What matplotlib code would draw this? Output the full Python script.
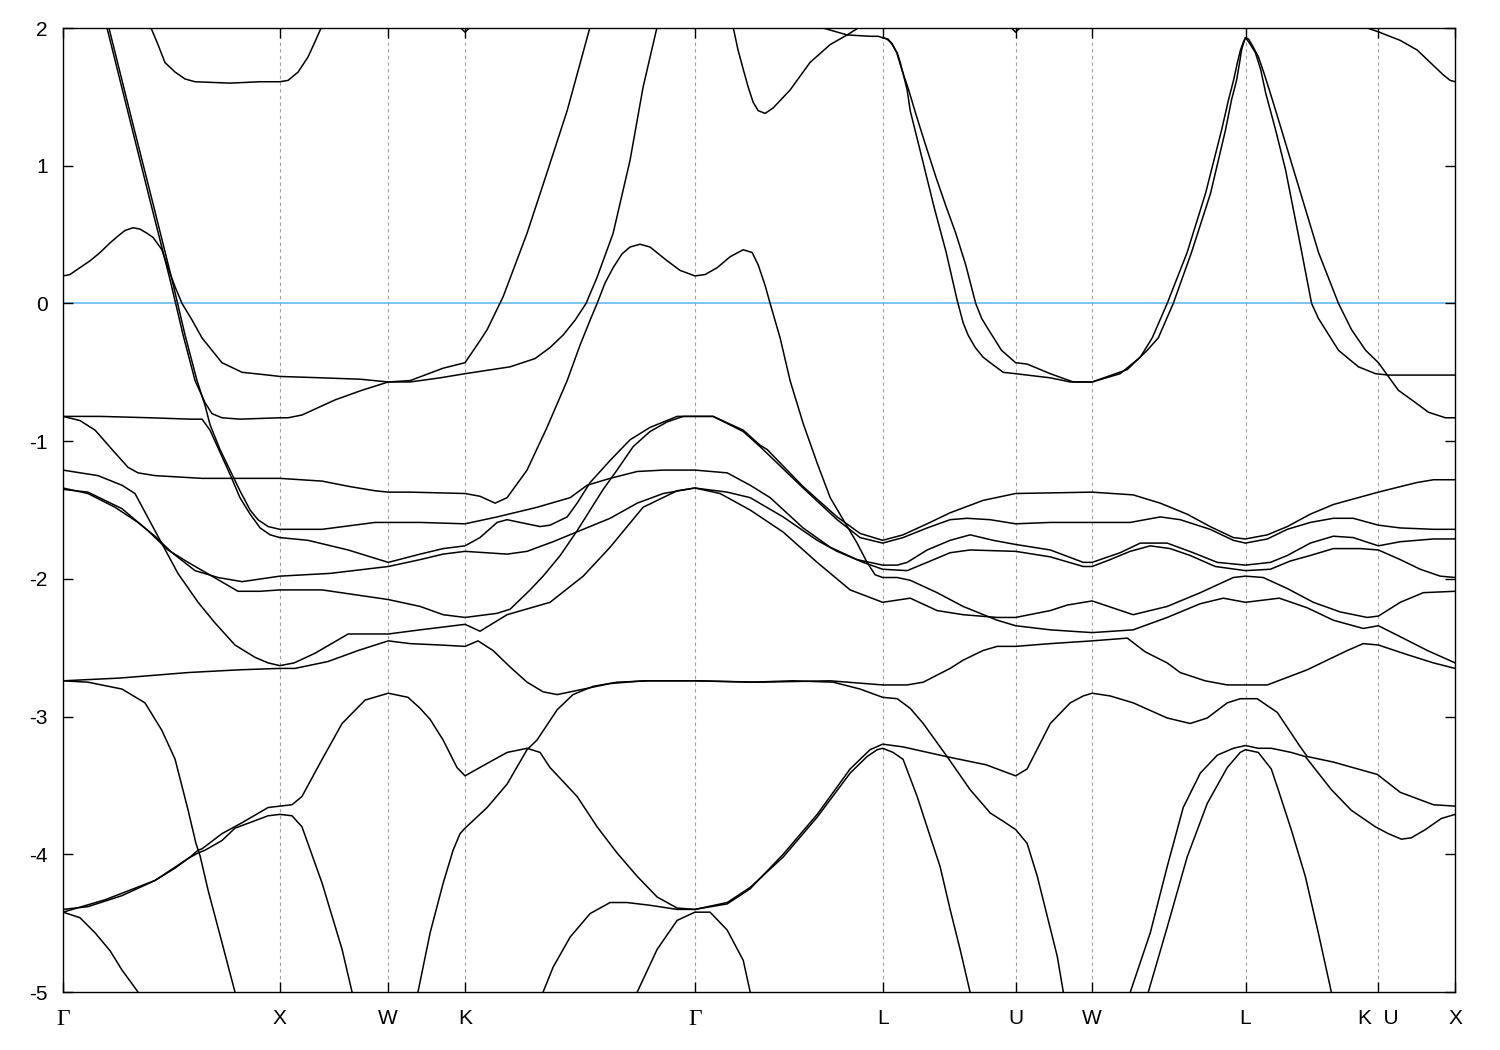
import matplotlib
matplotlib.use("Agg")
import matplotlib.pyplot as plt

plt.rcParams['axes.unicode_minus'] = False
plt.rcParams['font.family'] = ['Liberation Sans', 'DejaVu Sans']

# high-symmetry points along the path (units of 2pi/a)
sym_k = [0.0, 1.0, 1.5, 1.8536, 2.9142, 3.7802, 4.3926, 4.7462, 5.4533, 6.0657, 6.4193]
sym_labels = ['Γ', 'X', 'W', 'K', 'Γ', 'L', 'U', 'W', 'L', 'K  U', 'X']
y_ticks = [2, 1, 0, -1, -2, -3, -4, -5]
e_fermi = 0.0

# bands: k path position, energy (eV)
band1_k = [0.392, 0.406, 0.438, 0.470, 0.517, 0.563, 0.609, 0.770, 0.909, 1.0, 1.038, 1.084, 1.130, 1.162, 1.190, 1.204]
band1_e = [2.07, 2.00, 1.88, 1.75, 1.68, 1.63, 1.61, 1.60, 1.61, 1.61, 1.62, 1.68, 1.79, 1.90, 2.00, 2.04]

band2_k = [0, 0.032, 0.078, 0.125, 0.171, 0.217, 0.254, 0.286, 0.323, 0.355, 0.387, 0.415, 0.438, 0.456, 0.484,
           0.517, 0.549, 0.595, 0.641, 0.687, 0.733, 0.826, 0.946, 1.0, 1.195, 1.370, 1.5, 1.601, 1.739, 1.854,
           2.062, 2.177, 2.246, 2.306, 2.362, 2.412, 2.463, 2.537, 2.615, 2.675, 2.740, 2.749]
band2_e = [0.20, 0.21, 0.26, 0.31, 0.37, 0.44, 0.49, 0.53, 0.55, 0.54, 0.51, 0.48, 0.43, 0.39, 0.26,
           0.12, 0.00, -0.12, -0.25, -0.34, -0.43, -0.50, -0.52, -0.53, -0.54, -0.55, -0.57, -0.57, -0.54, -0.51,
           -0.46, -0.40, -0.32, -0.23, -0.12, 0.00, 0.19, 0.51, 1.04, 1.57, 2.01, 2.09]

band3_k = [0.189, 0.203, 0.309, 0.401, 0.494, 0.554, 0.609, 0.655, 0.687, 0.733, 0.816, 1.0, 1.038, 1.102, 1.255,
           1.379, 1.5, 1.601, 1.753, 1.854, 1.923, 1.956, 2.030, 2.140, 2.232, 2.325, 2.431, 2.445]
band3_e = [2.06, 2.00, 1.33, 0.75, 0.17, -0.23, -0.56, -0.72, -0.80, -0.83, -0.84, -0.83, -0.83, -0.81, -0.70,
           -0.63, -0.57, -0.56, -0.47, -0.43, -0.27, -0.19, 0.05, 0.51, 0.95, 1.40, 2.01, 2.07]

band4_k = [0.198, 0.212, 0.318, 0.411, 0.503, 0.563, 0.618, 0.655, 0.678, 0.724, 0.770, 0.816, 0.863, 0.899, 0.946,
           1.0, 1.195, 1.439, 1.647, 1.854, 2.002, 2.186, 2.339, 2.417, 2.523, 2.648, 2.768, 2.914,
           3.063, 3.169, 3.261, 3.413, 3.538, 3.662, 3.780, 3.847, 3.893, 3.985, 4.091, 4.183, 4.290, 4.393, 4.553,
           4.705, 4.746, 4.875, 4.968, 5.092, 5.212, 5.323, 5.453, 5.568, 5.646, 5.752, 5.858, 5.950, 6.066, 6.167,
           6.320, 6.42]
band4_e = [2.06, 2.00, 1.33, 0.75, 0.17, -0.23, -0.56, -0.74, -0.88, -1.06, -1.21, -1.36, -1.50, -1.57, -1.62,
           -1.64, -1.64, -1.59, -1.59, -1.60, -1.55, -1.48, -1.41, -1.32, -1.27, -1.22, -1.21, -1.21,
           -1.23, -1.32, -1.41, -1.63, -1.77, -1.86, -1.90, -1.90, -1.88, -1.79, -1.72, -1.68, -1.72, -1.75, -1.79,
           -1.88, -1.88, -1.81, -1.74, -1.74, -1.81, -1.88, -1.90, -1.88, -1.83, -1.74, -1.69, -1.70, -1.76, -1.73,
           -1.71, -1.71]

band5_k = [0, 0.171, 0.401, 0.586, 0.641, 0.678, 0.724, 0.770, 0.816, 0.863, 0.909, 0.955, 1.0, 1.130, 1.315, 1.5,
           1.647, 1.753, 1.854, 1.923, 2.002, 2.048, 2.108, 2.200, 2.246, 2.325, 2.371, 2.431, 2.523, 2.615, 2.707,
           2.832, 2.914,
           2.998, 3.137, 3.215, 3.247, 3.413, 3.570, 3.676, 3.780, 3.874, 3.985, 4.091, 4.243, 4.393, 4.746, 4.935,
           5.060, 5.184, 5.290, 5.397, 5.453, 5.554, 5.646, 5.752, 5.858, 5.950, 6.066, 6.167, 6.245, 6.320, 6.42]
band5_e = [-0.82, -0.82, -0.83, -0.84, -0.84, -0.92, -1.08, -1.24, -1.41, -1.53, -1.63, -1.68, -1.70, -1.72, -1.79,
           -1.88, -1.82, -1.78, -1.76, -1.70, -1.59, -1.57, -1.59, -1.62, -1.61, -1.55, -1.45, -1.30, -1.14, -0.99,
           -0.90, -0.82, -0.82,
           -0.82, -0.92, -1.03, -1.06, -1.33, -1.55, -1.67, -1.72, -1.68, -1.60, -1.52, -1.43, -1.38, -1.37, -1.39,
           -1.45, -1.53, -1.62, -1.70, -1.71, -1.68, -1.62, -1.53, -1.46, -1.42, -1.37, -1.33, -1.30, -1.28, -1.28]

band6_k = [0, 0.078, 0.148, 0.226, 0.300, 0.346, 0.424, 0.641, 0.793, 1.0,
           1.195, 1.324, 1.439, 1.5, 1.601, 1.854, 1.923, 1.993, 2.048, 2.140,
           2.232, 2.325, 2.385, 2.431, 2.463, 2.500, 2.537, 2.578, 2.615, 2.661,
           2.707, 2.786, 2.846, 2.914, 2.961, 3.017, 3.077, 3.137, 3.178, 3.206,
           3.238, 3.261, 3.307, 3.353, 3.413, 3.478, 3.538, 3.598, 3.662, 3.708,
           3.745, 3.780, 3.847, 3.907, 4.031, 4.151, 4.308, 4.393, 4.553, 4.746,
           4.935, 5.092, 5.245, 5.351, 5.453, 5.609, 5.738, 5.858, 5.996, 6.066,
           6.167, 6.292, 6.42]
band6_e = [-0.82, -0.85, -0.92, -1.06, -1.19, -1.23, -1.25, -1.27, -1.27, -1.27,
           -1.29, -1.33, -1.36, -1.37, -1.37, -1.38, -1.40, -1.45, -1.41, -1.21,
           -0.90, -0.56, -0.30, -0.12, 0.00, 0.15, 0.26, 0.36, 0.41, 0.43,
           0.41, 0.31, 0.24, 0.20, 0.21, 0.26, 0.34, 0.39, 0.37, 0.28,
           0.13, 0.00, -0.25, -0.56, -0.87, -1.16, -1.41, -1.57, -1.74, -1.88,
           -1.97, -1.99, -1.99, -2.01, -2.10, -2.20, -2.30, -2.34, -2.37, -2.39,
           -2.37, -2.28, -2.18, -2.14, -2.17, -2.14, -2.21, -2.30, -2.36, -2.34,
           -2.42, -2.52, -2.61]

band7_k = [0, 0.115, 0.240, 0.346, 0.424, 0.503, 0.609, 0.715, 0.826, 1.0, 1.232, 1.5, 1.647, 1.753, 1.854, 2.048,
           2.140, 2.260, 2.399, 2.523, 2.648, 2.768, 2.914,
           3.063, 3.169, 3.321, 3.478, 3.570, 3.690, 3.780, 3.893, 3.985, 4.091, 4.183, 4.393, 4.553, 4.705, 4.746,
           4.829, 4.921, 5.014, 5.106, 5.198, 5.314, 5.453, 5.568, 5.660, 5.752, 5.858, 5.983, 6.066, 6.167, 6.259,
           6.351, 6.42]
band7_e = [-1.34, -1.38, -1.48, -1.59, -1.69, -1.81, -1.94, -1.99, -2.02, -1.98, -1.96, -1.91, -1.86, -1.82, -1.80,
           -1.82, -1.80, -1.73, -1.64, -1.56, -1.45, -1.38, -1.34,
           -1.37, -1.41, -1.55, -1.72, -1.80, -1.88, -1.93, -1.94, -1.88, -1.81, -1.79, -1.80, -1.84, -1.91, -1.91,
           -1.86, -1.80, -1.76, -1.78, -1.83, -1.91, -1.94, -1.93, -1.87, -1.83, -1.78, -1.78, -1.79, -1.86, -1.93,
           -1.98, -1.99]

band8_k = [0, 0.115, 0.272, 0.392, 0.484, 0.577, 0.687, 0.807, 0.909, 1.0, 1.195, 1.5, 1.647, 1.753, 1.854, 2.002,
           2.062, 2.154, 2.214, 2.293, 2.371, 2.431, 2.491, 2.555, 2.629, 2.707, 2.786, 2.860, 2.914,
           2.998, 3.137, 3.215, 3.413, 3.570, 3.676, 3.780, 3.874, 3.985, 4.091, 4.169, 4.275, 4.393, 4.553, 4.746,
           4.921, 5.060, 5.152, 5.290, 5.397, 5.453, 5.554, 5.646, 5.752, 5.858, 5.950, 6.066, 6.167, 6.320, 6.42]
band8_e = [-1.35, -1.37, -1.49, -1.65, -1.79, -1.88, -1.98, -2.09, -2.09, -2.08, -2.08, -2.15, -2.20, -2.26, -2.28,
           -2.25, -2.22, -2.08, -1.98, -1.83, -1.65, -1.50, -1.35, -1.21, -1.04, -0.93, -0.86, -0.82, -0.82,
           -0.82, -0.93, -1.04, -1.34, -1.57, -1.70, -1.74, -1.70, -1.63, -1.57, -1.56, -1.57, -1.60, -1.59, -1.59,
           -1.59, -1.55, -1.57, -1.64, -1.72, -1.74, -1.71, -1.64, -1.59, -1.56, -1.56, -1.61, -1.63, -1.64, -1.64]

band9_k = [0, 0.161, 0.272, 0.332, 0.424, 0.530, 0.623, 0.701, 0.793, 0.886, 0.946, 1.0, 1.066, 1.162, 1.315, 1.5,
           1.647, 1.854, 1.923, 2.048, 2.246, 2.399, 2.523, 2.675, 2.832, 2.914,
           3.030, 3.169, 3.321, 3.478, 3.630, 3.780, 3.907, 4.031, 4.151, 4.308, 4.393, 4.553, 4.631, 4.746, 4.935,
           5.092, 5.245, 5.397, 5.453, 5.535, 5.646, 5.766, 5.890, 6.015, 6.066, 6.167, 6.273, 6.42]
band9_e = [-1.21, -1.25, -1.32, -1.38, -1.65, -1.96, -2.17, -2.32, -2.48, -2.57, -2.61, -2.63, -2.61, -2.54, -2.40,
           -2.40, -2.37, -2.33, -2.38, -2.26, -2.17, -1.98, -1.77, -1.48, -1.36, -1.34,
           -1.38, -1.50, -1.66, -1.88, -2.08, -2.17, -2.14, -2.23, -2.26, -2.28, -2.28, -2.23, -2.19, -2.16, -2.26,
           -2.20, -2.10, -1.99, -1.98, -1.99, -2.07, -2.17, -2.24, -2.28, -2.27, -2.17, -2.10, -2.09]

band10_k = [0, 0.263, 0.577, 0.816, 1.0, 1.070, 1.222, 1.361, 1.5, 1.601, 1.739, 1.854, 1.914, 1.983, 2.062, 2.140,
            2.214, 2.279, 2.371, 2.523, 2.675, 2.914,
            3.215, 3.538, 3.780, 3.893, 3.967, 4.091, 4.151, 4.243, 4.308, 4.393, 4.553, 4.746, 4.908, 4.991, 5.092,
            5.152, 5.267, 5.369, 5.453, 5.554, 5.738, 5.830, 5.923, 5.996, 6.066, 6.199, 6.320, 6.42]
band10_e = [-2.74, -2.72, -2.68, -2.66, -2.65, -2.65, -2.60, -2.52, -2.45, -2.47, -2.48, -2.49, -2.45, -2.52, -2.64,
            -2.75, -2.82, -2.84, -2.81, -2.76, -2.74, -2.74,
            -2.75, -2.74, -2.77, -2.77, -2.75, -2.65, -2.59, -2.52, -2.49, -2.49, -2.47, -2.45, -2.43, -2.53, -2.61,
            -2.68, -2.74, -2.77, -2.77, -2.77, -2.66, -2.59, -2.52, -2.47, -2.48, -2.55, -2.61, -2.65]

band11_k = [1.637, 1.693, 1.753, 1.799, 1.831, 1.854, 1.956, 2.048, 2.140, 2.186, 2.279, 2.352, 2.445, 2.555, 2.707,
            2.914, 3.169, 3.367, 3.552, 3.676, 3.780, 3.847, 3.907, 3.967, 4.031, 4.077, 4.183, 4.276, 4.336, 4.393,
            4.446, 4.493, 4.539, 4.585, 4.613]
band11_e = [-5.00, -4.57, -4.21, -3.97, -3.85, -3.81, -3.66, -3.49, -3.24, -3.17, -2.95, -2.84, -2.78, -2.75, -2.74,
            -2.74, -2.75, -2.74, -2.75, -2.80, -2.86, -2.87, -2.94, -3.05, -3.19, -3.29, -3.53, -3.70, -3.76, -3.82,
            -3.92, -4.16, -4.45, -4.74, -5.00]

band12_k = [0, 0.115, 0.272, 0.378, 0.456, 0.517, 0.577, 0.613, 0.632, 0.669, 0.733, 0.793]
band12_e = [-2.74, -2.75, -2.80, -2.90, -3.10, -3.31, -3.68, -3.92, -4.01, -4.26, -4.64, -5.00]

band13_k = [0, 0.115, 0.272, 0.424, 0.517, 0.586, 0.623, 0.641, 0.733, 0.826, 0.946, 1.0, 1.056, 1.102, 1.195,
            1.287, 1.393, 1.5, 1.591, 1.647, 1.693, 1.753, 1.817, 1.854, 1.956, 2.048, 2.140, 2.200, 2.246, 2.371,
            2.463, 2.555, 2.648, 2.740, 2.832, 2.914,
            3.063, 3.169, 3.321, 3.478, 3.630, 3.722, 3.780, 3.874, 4.073, 4.257, 4.393, 4.446, 4.553, 4.645, 4.705,
            4.746, 4.829, 4.935, 5.092, 5.198, 5.277, 5.369, 5.429, 5.507, 5.600, 5.706, 5.738, 5.858, 6.061, 6.167,
            6.320, 6.42]
band13_e = [-4.40, -4.38, -4.30, -4.19, -4.10, -4.02, -3.97, -3.96, -3.85, -3.77, -3.66, -3.65, -3.64, -3.58, -3.31,
            -3.05, -2.88, -2.83, -2.86, -2.94, -3.02, -3.17, -3.37, -3.43, -3.34, -3.26, -3.23, -3.26, -3.37, -3.58,
            -3.80, -3.99, -4.16, -4.31, -4.39, -4.40,
            -4.36, -4.25, -4.00, -3.71, -3.38, -3.24, -3.20, -3.22, -3.29, -3.35, -3.43, -3.38, -3.05, -2.90, -2.85,
            -2.83, -2.85, -2.90, -3.01, -3.05, -3.01, -2.90, -2.87, -2.87, -2.97, -3.22, -3.29, -3.33, -3.42, -3.55,
            -3.64, -3.65]

band14_k = [0, 0.194, 0.424, 0.577, 0.623, 0.655, 0.733, 0.793, 0.946, 1.0, 1.056, 1.102, 1.195, 1.287, 1.333]
band14_e = [-4.42, -4.33, -4.19, -4.03, -3.99, -3.97, -3.90, -3.81, -3.72, -3.71, -3.72, -3.80, -4.21, -4.69, -5.00]

band15_k = [0, 0.078, 0.148, 0.217, 0.272, 0.346]
band15_e = [-4.42, -4.46, -4.57, -4.70, -4.84, -5.00]

band16_k = [2.214, 2.260, 2.339, 2.431, 2.523, 2.601, 2.707, 2.832, 2.914,
            3.063, 3.169, 3.321, 3.478, 3.630, 3.708, 3.755, 3.780, 3.828, 3.874, 3.939, 3.999, 4.045, 4.091, 4.137,
            4.183]
band16_e = [-5.00, -4.82, -4.60, -4.43, -4.35, -4.35, -4.37, -4.40, -4.40,
            -4.35, -4.24, -4.02, -3.73, -3.41, -3.29, -3.24, -3.23, -3.26, -3.31, -3.58, -3.87, -4.09, -4.40, -4.69,
            -5.00]

band17_k = [2.648, 2.740, 2.832, 2.914, 2.984, 3.063, 3.137, 3.169]
band17_e = [-5.00, -4.69, -4.48, -4.42, -4.42, -4.55, -4.77, -5.00]

band18_k = [3.081, 3.090, 3.113, 3.137, 3.160, 3.183, 3.206, 3.238, 3.275, 3.353, 3.445, 3.538, 3.616, 3.667, 3.690]
band18_e = [2.07, 2.01, 1.84, 1.70, 1.57, 1.46, 1.40, 1.38, 1.42, 1.55, 1.75, 1.88, 1.95, 2.00, 2.03]

band19_k = [3.445, 3.505, 3.616, 3.722, 3.759, 3.780, 3.805, 3.824, 3.847, 3.861,
            3.874, 3.893, 3.907, 3.967, 4.017, 4.073, 4.105, 4.124, 4.151, 4.174,
            4.207, 4.243, 4.276, 4.336, 4.393, 4.553, 4.645, 4.746, 4.875, 4.968,
            5.023, 5.092, 5.184, 5.269, 5.343, 5.375, 5.398, 5.416, 5.430, 5.444,
            5.453, 5.463, 5.476, 5.499, 5.523, 5.546, 5.592, 5.638, 5.698, 5.758,
            5.790, 5.822, 5.882, 5.974, 6.053, 6.113, 6.42]
band19_e = [2.04, 2.00, 1.95, 1.94, 1.94, 1.93, 1.92, 1.88, 1.82, 1.75,
            1.67, 1.55, 1.40, 1.02, 0.70, 0.37, 0.15, 0.02, -0.14, -0.23,
            -0.32, -0.39, -0.43, -0.50, -0.51, -0.54, -0.57, -0.57, -0.51, -0.39,
            -0.25, 0.00, 0.37, 0.80, 1.26, 1.48, 1.62, 1.75, 1.84, 1.90,
            1.93, 1.91, 1.88, 1.82, 1.70, 1.53, 1.26, 0.97, 0.49, 0.00,
            -0.11, -0.19, -0.34, -0.46, -0.51, -0.52, -0.52]

band20_k = [3.780, 3.799, 3.822, 3.845, 3.868, 3.900, 3.932, 3.978, 4.025, 4.071,
            4.117, 4.163, 4.209, 4.237, 4.268, 4.328, 4.393, 4.446, 4.553, 4.659,
            4.746, 4.908, 5.000, 5.051, 5.120, 5.204, 5.292, 5.361, 5.389, 5.412,
            5.426, 5.435, 5.444, 5.453, 5.467, 5.486, 5.513, 5.541, 5.573, 5.606,
            5.698, 5.790, 5.882, 5.942, 6.007, 6.066, 6.112, 6.158, 6.237, 6.297,
            6.375, 6.42]
band20_e = [1.93, 1.92, 1.89, 1.82, 1.70, 1.55, 1.38, 1.15, 0.92, 0.71,
            0.51, 0.28, 0.00, -0.11, -0.19, -0.34, -0.43, -0.44, -0.51, -0.57,
            -0.57, -0.48, -0.34, -0.25, 0.00, 0.37, 0.80, 1.26, 1.48, 1.62,
            1.75, 1.84, 1.89, 1.93, 1.92, 1.87, 1.79, 1.66, 1.50, 1.33,
            0.85, 0.37, 0.00, -0.19, -0.34, -0.43, -0.53, -0.63, -0.72, -0.79,
            -0.83, -0.83]

band21_k = [5.936, 6.015, 6.07, 6.167, 6.245, 6.305, 6.365, 6.397, 6.42]
band21_e = [2.03, 2.00, 1.97, 1.91, 1.84, 1.75, 1.66, 1.62, 1.61]

band22_k = [1.808, 1.854, 1.900]
band22_e = [2.04, 1.97, 2.04]

band23_k = [4.350, 4.393, 4.440]
band23_e = [2.04, 1.97, 2.04]

band24_k = [4.922, 5.014, 5.092, 5.166, 5.245, 5.323, 5.397, 5.453, 5.512, 5.572, 5.664, 5.729, 5.789, 5.849, 5.941,
            6.052, 6.112, 6.172, 6.218, 6.283, 6.356, 6.42]
band24_e = [-5.00, -4.57, -4.09, -3.66, -3.41, -3.28, -3.23, -3.21, -3.23, -3.23, -3.26, -3.29, -3.41, -3.53, -3.68,
            -3.80, -3.85, -3.89, -3.88, -3.82, -3.74, -3.71]

band25_k = [5.005, 5.092, 5.184, 5.277, 5.369, 5.429, 5.453, 5.512, 5.572, 5.604, 5.664, 5.729, 5.789, 5.849]
band25_e = [-5.00, -4.53, -4.02, -3.63, -3.37, -3.26, -3.24, -3.26, -3.38, -3.53, -3.82, -4.16, -4.57, -5.00]

bands = [(band1_k, band1_e), (band2_k, band2_e), (band3_k, band3_e), (band4_k, band4_e), (band5_k, band5_e),
         (band6_k, band6_e), (band7_k, band7_e), (band8_k, band8_e), (band9_k, band9_e), (band10_k, band10_e),
         (band11_k, band11_e), (band12_k, band12_e), (band13_k, band13_e), (band14_k, band14_e),
         (band15_k, band15_e), (band16_k, band16_e), (band17_k, band17_e), (band18_k, band18_e),
         (band19_k, band19_e), (band20_k, band20_e), (band21_k, band21_e), (band22_k, band22_e),
         (band23_k, band23_e), (band24_k, band24_e), (band25_k, band25_e)]

fig = plt.figure(figsize=(15, 10.5), dpi=100)
ax = fig.add_axes([0.042, 0.0552, 0.928, 0.9181])

# dashed lines at the high symmetry points
for k in sym_k[1:-1]:
    ax.axvline(k, color='#a0a0a0', lw=0.8, ls=(0, (3, 3)), zorder=1)

ax.axhline(e_fermi, color='#56b4e9', lw=1.1, zorder=1)

for bk, be in bands:
    ax.plot(bk, be, color='black', lw=1.1, zorder=2)

ax.set_xlim(sym_k[0], sym_k[-1])
ax.set_ylim(-5, 2)
ax.set_xticks(sym_k)
ax.set_xticklabels(sym_labels)
ax.set_yticks(y_ticks)
ax.set_yticklabels([str(v) for v in y_ticks])
ax.tick_params(direction='in', top=True, right=True, length=7, width=1.0, labelsize=15)
ax.tick_params(axis='x', pad=12)
ax.tick_params(axis='y', pad=11)
for lab in ax.get_xticklabels():
    if lab.get_text() == 'Γ':
        lab.set_fontfamily('Liberation Serif')
        lab.set_fontsize(17)
for sp in ax.spines.values():
    sp.set_linewidth(1.0)

fig.savefig('out.png', dpi=100)
